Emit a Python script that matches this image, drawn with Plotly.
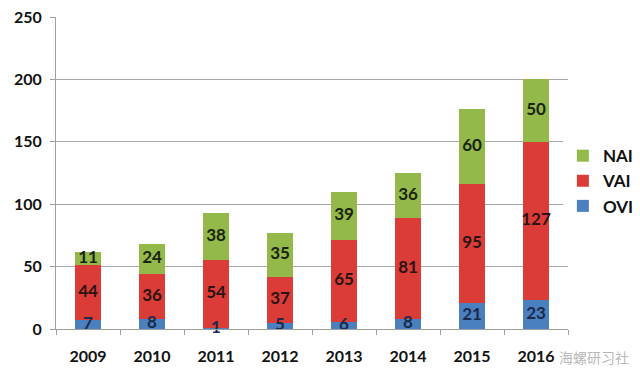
import plotly.graph_objects as go

years = ["2009", "2010", "2011", "2012", "2013", "2014", "2015", "2016"]
ovi = [7, 8, 1, 5, 6, 8, 21, 23]
vai = [44, 36, 54, 37, 65, 81, 95, 127]
nai = [11, 24, 38, 35, 39, 36, 60, 50]
y_ticks = [0, 50, 100, 150, 200, 250]

series = [
    ("OVI", ovi, "#4a7fc0", "#1b2a4a"),
    ("VAI", vai, "#dc3c37", "#2a1414"),
    ("NAI", nai, "#93b94a", "#1a2410"),
]

font_family = "Lato, 'Open Sans', Arial, sans-serif"
fig = go.Figure()

base = [0] * len(years)
for i, (name, vals, color, tcolor) in enumerate(series):
    fig.add_trace(go.Bar(
        x=years, y=vals, name=name, marker_color=color,
        marker_line_width=0, legendgroup=name,
    ))
    mids = [b + v / 2 for b, v in zip(base, vals)]
    fig.add_trace(go.Scatter(
        x=years, y=mids, mode="text", text=[str(v) for v in vals],
        textfont=dict(family=font_family, size=17, color=tcolor, weight="bold"),
        showlegend=False, hoverinfo="skip", cliponaxis=False,
    ))
    base = [b + v for b, v in zip(base, vals)]

fig.update_layout(
    width=640, height=381,
    margin=dict(l=56, r=72, t=17, b=52, autoexpand=False),
    paper_bgcolor="white", plot_bgcolor="white",
    barmode="stack", bargap=0.6,
    font=dict(family=font_family, size=15, color="#111111"),
    legend=dict(
        x=0.99, y=0.474, xanchor="left", yanchor="middle",
        traceorder="reversed", tracegroupgap=18,
        font=dict(family=font_family, size=17, color="#111111", weight="bold"),
        itemwidth=30,
    ),
    annotations=[dict(
        x=0.978, y=-0.09, xref="paper", yref="paper", xanchor="left",
        yanchor="middle", text="海螺研习社", showarrow=False,
        font=dict(family="Noto Sans CJK SC", size=14, color="#b8b8b8"),
    )],
)
fig.update_xaxes(
    type="category", showline=True, linecolor="#a0a0a0", linewidth=1,
    ticks="outside", tickson="boundaries", ticklen=5, tickcolor="#a0a0a0",
    tickfont=dict(family=font_family, size=16, color="#111111", weight="bold"),
    showgrid=False, automargin=False, ticklabelstandoff=13,
)
fig.update_yaxes(
    range=[0, 250], tickvals=y_ticks, showgrid=True, gridcolor="#a8a8a8",
    gridwidth=1, showline=True, linecolor="#a0a0a0", linewidth=1,
    ticks="outside", ticklen=5, tickcolor="#a0a0a0", zeroline=False,
    tickfont=dict(family=font_family, size=16, color="#111111", weight="bold"),
    ticklabelstandoff=5, automargin=False,
)

fig.write_html("out.html", config={"displayModeBar": False},
               post_script="document.body.style.margin='0';")
